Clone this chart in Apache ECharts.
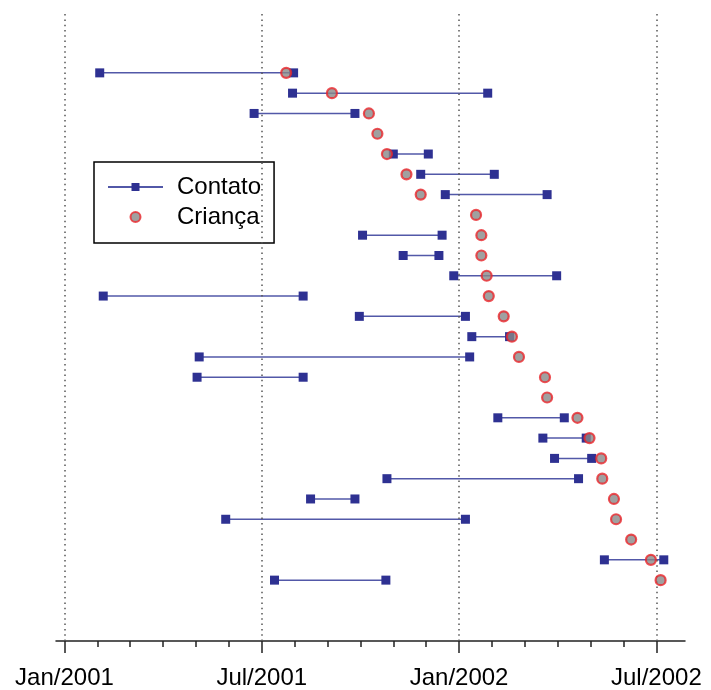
<!DOCTYPE html>
<html>
<head>
<meta charset="utf-8">
<script src="https://cdn.jsdelivr.net/npm/echarts@6/dist/echarts.min.js"></script>
<style>
  html, body { margin: 0; padding: 0; background: #fff; }
  #chart { width: 711px; height: 690px; }
</style>
</head>
<body>
<div id="chart"></div>
<script>
// ---- Data ----
// one row per child, top to bottom
const contatoInicio = ['2001-02-03','2001-07-30','2001-06-24',null,'2001-11-01','2001-11-26','2001-12-19',null,'2001-10-03','2001-11-10','2001-12-27','2001-02-06','2001-09-30','2002-01-13','2001-05-04','2001-05-02',null,'2002-02-06','2002-03-18','2002-03-29','2001-10-26','2001-08-16','2001-05-29',null,'2002-05-14','2001-07-13'];
const contatoFim    = ['2001-07-31','2002-01-28','2001-09-26',null,'2001-12-03','2002-02-03','2002-03-22',null,'2001-12-16','2001-12-13','2002-03-31','2001-08-09','2002-01-07','2002-02-16','2002-01-11','2001-08-09',null,'2002-04-07','2002-04-27','2002-05-02','2002-04-20','2001-09-26','2002-01-07',null,'2002-07-08','2001-10-25'];
const crianca       = ['2001-07-24','2001-09-05','2001-10-09','2001-10-17','2001-10-26','2001-11-13','2001-11-26','2002-01-17','2002-01-22','2002-01-22','2002-01-27','2002-01-29','2002-02-11','2002-02-18','2002-02-24','2002-03-20','2002-03-22','2002-04-19','2002-04-30','2002-05-11','2002-05-12','2002-05-23','2002-05-25','2002-06-08','2002-06-26','2002-07-05'];
const tickLabels = ['Jan/2001','Jul/2001','Jan/2002','Jul/2002'];
const tickDates  = ['2001-01-01','2001-07-01','2002-01-01','2002-07-01'];
const axisStart = '2000-12-24';
const axisEnd   = '2002-07-28';
const seriesNames = ['Contato','Criança'];

// ---- helpers: date -> months since Jan/2001 (equal-width months) ----
function toMonths(s) {
  const [y, m, d] = s.split('-').map(Number);
  const dim = new Date(y, m, 0).getDate();
  return (y - 2001) * 12 + (m - 1) + (d - 1) / dim;
}
const nRows = crianca.length;
const rowY = i => nRows + 2 - i;   // top row highest
const majorVals = tickDates.map(toMonths);
const minorVals = [];
for (let v = majorVals[0]; v <= majorVals[majorVals.length - 1]; v++) {
  if (majorVals.indexOf(v) < 0) minorVals.push(v);
}

const FONT = '"Liberation Sans", Arial, sans-serif';

const series = [];
for (let i = 0; i < nRows; i++) {
  if (contatoInicio[i] && contatoFim[i]) {
    series.push({
      name: seriesNames[0], type: 'line', xAxisIndex: 0,
      data: [[toMonths(contatoInicio[i]), rowY(i)], [toMonths(contatoFim[i]), rowY(i)]],
      symbol: 'rect', symbolSize: 9, showAllSymbol: true,
      itemStyle: { color: '#2E3192' },
      lineStyle: { color: '#5258A8', width: 1.5 },
      emphasis: { disabled: true }, silent: true, z: 3
    });
  }
}
series.push({
  name: seriesNames[1], type: 'scatter', xAxisIndex: 0,
  data: crianca.map((d, i) => [toMonths(d), rowY(i)]),
  symbol: 'circle', symbolSize: 10,
  itemStyle: { color: '#888888', borderColor: '#E8262A', borderWidth: 2.2 },
  emphasis: { disabled: true }, silent: true, z: 5,
  markLine: {
    silent: true, symbol: 'none', label: { show: false },
    lineStyle: { color: '#555', width: 1.5, type: [1.5, 3.8] },
    emphasis: { disabled: true },
    data: majorVals.map(v => ({ xAxis: v }))
  }
});

const chart = echarts.init(document.getElementById('chart'), null, { renderer: 'canvas' });
chart.setOption({
  animation: false,
  backgroundColor: '#fff',
  grid: { left: 56, right: 26, top: 12, bottom: 49, containLabel: false },
  xAxis: [
    {
      type: 'value', min: toMonths(axisStart), max: toMonths(axisEnd),
      position: 'bottom',
      axisLine: { show: true, onZero: false, lineStyle: { color: '#222', width: 1.5 } },
      axisTick: { show: true, inside: false, customValues: majorVals, length: 12, lineStyle: { color: '#222', width: 1.5 } },
      axisLabel: {
        show: true, customValues: majorVals, margin: 25,
        fontSize: 24, color: '#000', fontFamily: FONT,
        formatter: v => tickLabels[majorVals.indexOf(v)]
      },
      splitLine: { show: false }
    },
    {
      type: 'value', min: toMonths(axisStart), max: toMonths(axisEnd),
      position: 'bottom', offset: 0,
      axisLine: { show: false, onZero: false },
      axisTick: { show: true, inside: false, customValues: minorVals, length: 6, lineStyle: { color: '#222', width: 1.5 } },
      axisLabel: { show: false },
      splitLine: { show: false }
    }
  ],
  yAxis: { type: 'value', min: 0, max: nRows + 5, show: false, splitLine: { show: false } },
  legend: {
    orient: 'vertical', left: 94, top: 162,
    padding: [13, 13, 14, 13],
    itemWidth: 55, itemHeight: 10, itemGap: 6,
    borderColor: '#000', borderWidth: 1.5, backgroundColor: '#fff',
    textStyle: { fontSize: 24, lineHeight: 24, color: '#000', fontFamily: FONT, padding: [0, 0, 0, 9] },
    data: seriesNames,
    selectedMode: false
  },
  series: series
});
</script>
</body>
</html>
